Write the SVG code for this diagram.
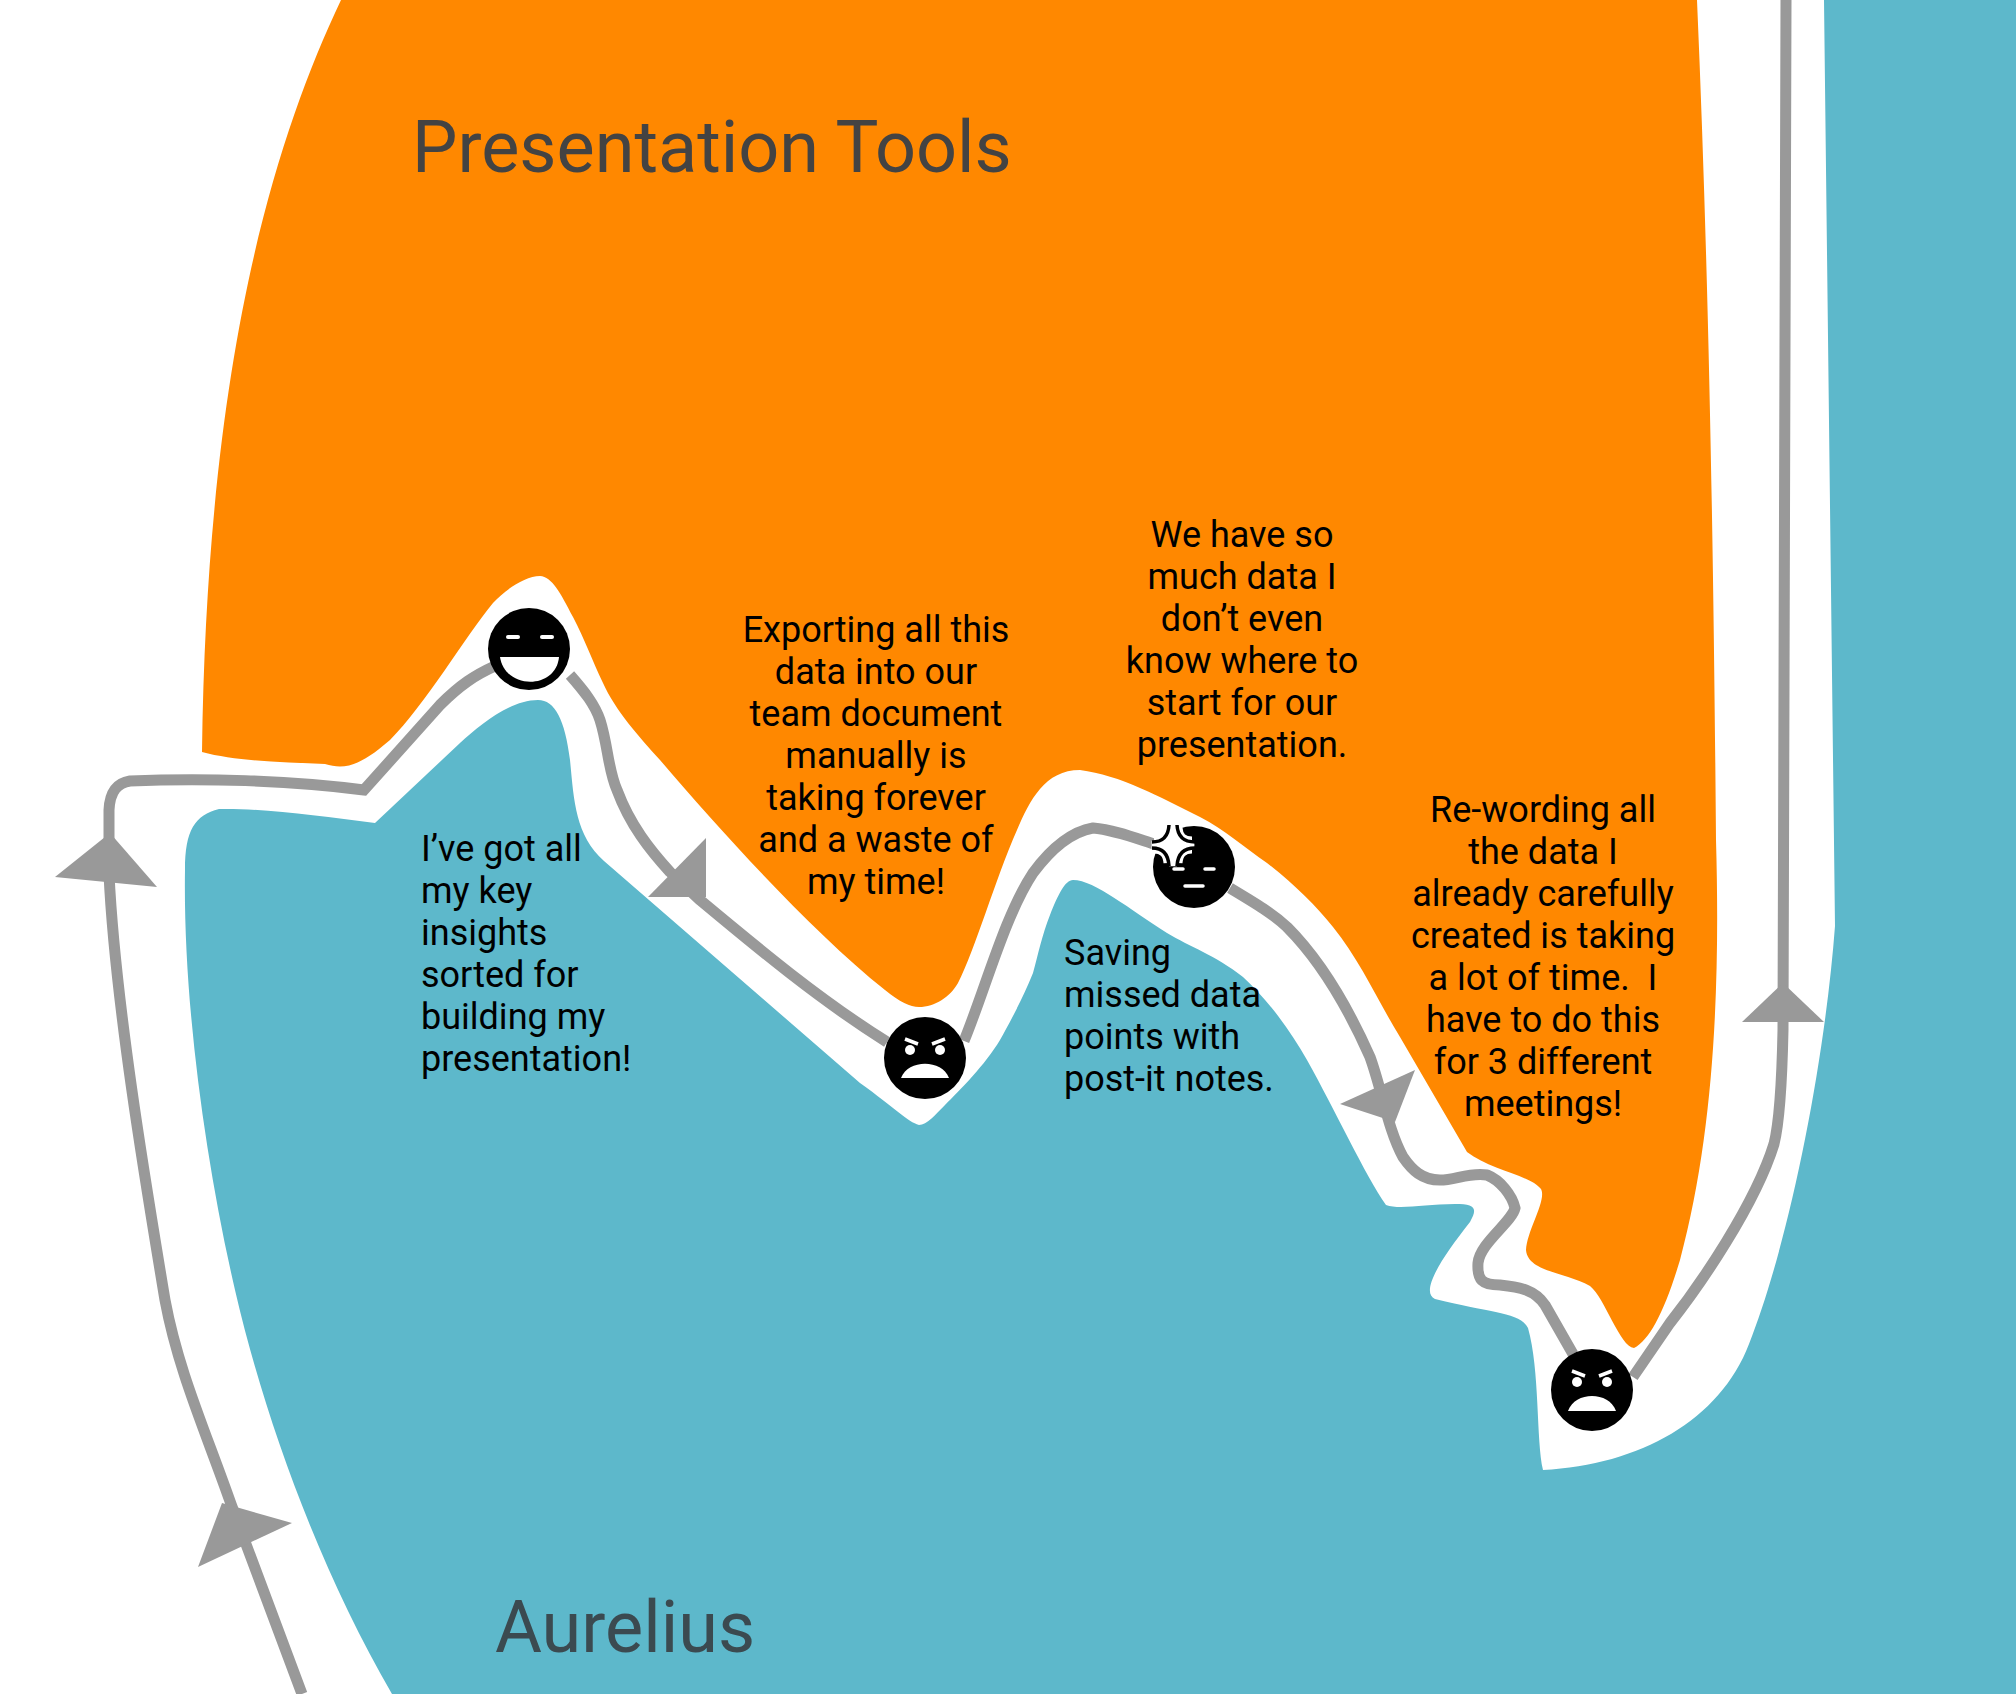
<svg xmlns="http://www.w3.org/2000/svg" width="2016" height="1694" viewBox="0 0 2016 1694">
<style>
.t{font-family:Roboto,"Liberation Sans",sans-serif;font-size:36px;fill:#000}
.c{text-anchor:middle}
.h{font-family:Roboto,"Liberation Sans",sans-serif;font-size:72px;fill:#434343}
.arrow{fill:#999}
</style>
<rect width="2016" height="1694" fill="#fff"/>
<path id="orange-area" fill="#ff8800" d="M341 0C270 150 207 370 202 752C235 761 280 762 325 764C345 770 360 766 390 740C425 705 465 637 493 603C505 590 525 576 540 576C552 577 560 592 573 617C585 640 592 660 603 683C615 710 640 738 660 760C720 830 810 930 885 990C900 1002 910 1007 919 1007C935 1007 950 997 958 983C975 950 995 880 1017 830C1030 800 1045 770 1080 770C1120 775 1160 797 1200 817C1225 830 1245 848 1267 863C1295 885 1315 905 1333 927C1360 960 1380 1005 1400 1037L1467 1152C1490 1170 1530 1175 1541 1189C1547 1200 1527 1230 1526 1250C1528 1272 1565 1272 1590 1286C1605 1298 1620 1347 1634 1348C1650 1340 1665 1310 1680 1260C1715 1130 1720 980 1716 840C1714 600 1710 300 1697 0Z"/>
<path id="teal-area" fill="#5db8cb" d="M1824 0L1835 926C1825 1060 1790 1240 1749 1344C1720 1420 1640 1465 1543 1470C1536 1440 1540 1370 1528 1328C1520 1312 1490 1313 1435 1299C1420 1292 1440 1260 1470 1222C1478 1208 1475 1204 1455 1204C1425 1204 1400 1210 1386 1205C1365 1175 1335 1110 1307 1060C1290 1030 1268 1000 1243 977C1215 955 1190 947 1167 933C1130 910 1095 880 1073 880C1065 880 1058 895 1050 915C1042 935 1038 955 1033 973C1022 1000 1010 1022 1000 1040C985 1065 960 1090 945 1105C935 1115 927 1125 919 1125C908 1122 895 1108 860 1083L604 861C575 835 574 800 570 760C565 720 555 700 538 700C510 700 480 725 460 743L375 823C320 816 260 808 219 809C195 815 185 830 185 870C183 1000 205 1160 235 1290C265 1420 320 1570 392 1694L2016 1694L2016 0Z"/>
<g id="connectors" fill="none" stroke="#999" stroke-width="11">
<path d="M302 1694L231 1504C205 1430 178 1370 165 1300C145 1180 115 1000 109 874L109 810C110 790 118 783 130 781C200 778 290 780 364 790L440 705C460 685 475 675 495 666"/>
<path d="M570 675C585 692 595 705 600 720C608 745 608 770 617 790C630 825 650 850 670 872L700 900C760 950 820 1000 887 1042"/>
<path d="M964 1041C985 990 1005 915 1033 873C1050 850 1070 832 1093 828C1115 830 1135 838 1157 845"/>
<path d="M1230 888C1255 903 1272 913 1287 927C1322 962 1350 1012 1370 1057C1382 1090 1388 1130 1403 1157C1412 1170 1422 1180 1440 1180C1455 1180 1470 1172 1487 1175C1500 1180 1512 1195 1515 1208C1512 1222 1480 1243 1478 1263C1477 1280 1482 1285 1500 1285C1520 1287 1535 1290 1545 1305L1573 1354"/>
<path d="M1633 1377L1670 1323C1700 1285 1755 1205 1774 1144C1780 1120 1782 1080 1783 1030L1786 0"/>
</g>
<g id="arrowheads" class="arrow">
<polygon points="110,833 55,877 157,887"/>
<polygon points="222,1503 292,1523 198,1567"/>
<polygon points="706,838 648,897 706,897"/>
<polygon points="1415,1070 1340,1104 1395,1122"/>
<polygon points="1783,983 1742,1022 1824,1022"/>
</g>
<g id="face-1">
<circle cx="529" cy="649" r="41"/>
<rect x="506" y="635" width="14" height="4" rx="2" fill="#fff"/><rect x="540" y="635" width="14" height="4" rx="2" fill="#fff"/>
<path d="M500 657H559C556 690 505 690 500 657Z" fill="#fff"/>
</g>
<g id="face-2">
<circle cx="925" cy="1058" r="41"/>
<path d="M905 1039L918 1044M945 1039L932 1044" stroke="#fff" stroke-width="3.5" fill="none"/>
<circle cx="910" cy="1050" r="5" fill="#fff"/><circle cx="940" cy="1050" r="5" fill="#fff"/>
<path d="M901 1078C908 1059 942 1059 949 1078Z" fill="#fff"/>
</g>
<g id="face-3">
<circle cx="1194" cy="867" r="41"/>
<path d="M1169 828Q1168 842 1154 842M1177 828Q1178 842 1192 842M1192 848Q1178 848 1177 863M1169 863Q1168 848 1154 848" fill="none" stroke="#fff" stroke-width="11"/>
<path d="M1173 826Q1174 843 1194 845Q1174 847 1173 866Q1172 847 1152 845Q1172 843 1173 826Z" fill="#fff" stroke="#fff" stroke-width="8"/>
<path d="M1169 825Q1168 842 1152 842M1177 825Q1178 842 1195 842M1195 848Q1178 848 1177 866M1169 866Q1168 848 1152 848" fill="none" stroke="#000" stroke-width="3.5"/>
<path d="M1174 869H1183M1205 869H1214M1185 886H1203" stroke="#fff" stroke-width="3.5" stroke-linecap="round" fill="none"/>
</g>
<g id="face-4">
<circle cx="1592" cy="1390" r="41"/>
<path d="M1572 1371L1585 1376M1612 1371L1599 1376" stroke="#fff" stroke-width="3.5" fill="none"/>
<circle cx="1577" cy="1382" r="5" fill="#fff"/><circle cx="1607" cy="1382" r="5" fill="#fff"/>
<path d="M1568 1411C1575 1391 1609 1391 1616 1411Z" fill="#fff"/>
</g>
<g id="labels">
<text class="h" x="412" y="172">Presentation Tools</text>
<text class="h" x="495" y="1652" style="fill:#3b4a50">Aurelius</text>
<g class="t">
<text x="421" y="861">I’ve got all</text><text x="421" y="903">my key</text><text x="421" y="945">insights</text><text x="421" y="987">sorted for</text><text x="421" y="1029">building my</text><text x="421" y="1071">presentation!</text>
<text x="1064" y="965">Saving</text><text x="1064" y="1007">missed data</text><text x="1064" y="1049">points with</text><text x="1064" y="1091">post-it notes.</text>
</g>
<g class="t c">
<text x="876" y="642">Exporting all this</text><text x="876" y="684">data into our</text><text x="876" y="726">team document</text><text x="876" y="768">manually is</text><text x="876" y="810">taking forever</text><text x="876" y="852">and a waste of</text><text x="876" y="894">my time!</text>
<text x="1242" y="547">We have so</text><text x="1242" y="589">much data I</text><text x="1242" y="631">don’t even</text><text x="1242" y="673">know where to</text><text x="1242" y="715">start for our</text><text x="1242" y="757">presentation.</text>
<text x="1543" y="822">Re-wording all</text><text x="1543" y="864">the data I</text><text x="1543" y="906">already carefully</text><text x="1543" y="948">created is taking</text><text x="1543" y="990">a lot of time.&#160; I</text><text x="1543" y="1032">have to do this</text><text x="1543" y="1074">for 3 different</text><text x="1543" y="1116">meetings!</text>
</g>
</g>
</svg>
